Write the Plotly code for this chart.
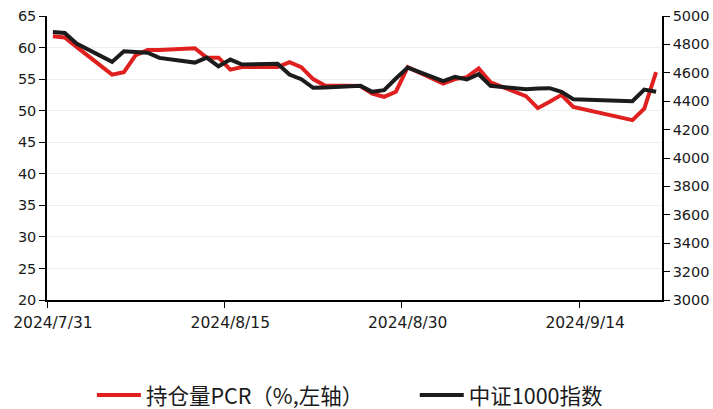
import pandas as pd
import plotly.graph_objects as go

dates = ["2024-07-31", "2024-08-01", "2024-08-02", "2024-08-05", "2024-08-06", "2024-08-07",
         "2024-08-08", "2024-08-09", "2024-08-12", "2024-08-13", "2024-08-14", "2024-08-15",
         "2024-08-16", "2024-08-19", "2024-08-20", "2024-08-21", "2024-08-22", "2024-08-23",
         "2024-08-26", "2024-08-27", "2024-08-28", "2024-08-29", "2024-08-30", "2024-09-02",
         "2024-09-03", "2024-09-04", "2024-09-05", "2024-09-06", "2024-09-09", "2024-09-10",
         "2024-09-11", "2024-09-12", "2024-09-13", "2024-09-18", "2024-09-19", "2024-09-20"]

pcr = [61.8, 61.6, 60.1, 55.7, 56.1, 58.8,
       59.6, 59.6, 59.9, 58.4, 58.4, 56.5,
       56.9, 56.9, 57.7, 56.9, 55.0, 54.0,
       53.9, 52.7, 52.2, 53.0, 56.9, 54.3,
       55.0, 55.3, 56.7, 54.5, 52.3, 50.4,
       51.4, 52.5, 50.6, 48.5, 50.3, 56.1]

csi1000 = [4887, 4880, 4806, 4677, 4752, 4747,
           4742, 4705, 4672, 4707, 4646, 4693,
           4658, 4663, 4588, 4555, 4494, 4497,
           4508, 4466, 4478, 4560, 4637, 4541,
           4571, 4553, 4590, 4508, 4484, 4489,
           4492, 4466, 4414, 4400, 4482, 4466]

tick_dates = ["2024-07-31", "2024-08-15", "2024-08-30", "2024-09-14"]
tick_labels = ["2024/7/31", "2024/8/15", "2024/8/30", "2024/9/14"]

half_day = pd.Timedelta(hours=12)
x = pd.to_datetime(dates) + half_day
tick_pos = pd.to_datetime(tick_dates)

fig = go.Figure()
fig.add_trace(go.Scatter(x=x, y=pcr, name="持仓量PCR（%,左轴）", mode="lines",
                         line=dict(color="#E0201F", width=4), yaxis="y", legend="legend"))
fig.add_trace(go.Scatter(x=x, y=csi1000, name="中证1000指数", mode="lines",
                         line=dict(color="#1C1C1C", width=4), yaxis="y2", legend="legend2"))

legend_font = dict(family="Noto Sans CJK SC", size=21.5, color="#1a1a1a")

fig.update_layout(
    width=713, height=409,
    margin=dict(l=47, r=51, t=16, b=109, autoexpand=False),
    paper_bgcolor="white", plot_bgcolor="white",
    showlegend=True,
    legend=dict(orientation="h", x=0.073, xanchor="left", y=-0.335, yanchor="middle",
                font=legend_font, itemwidth=44, bgcolor="rgba(0,0,0,0)"),
    legend2=dict(orientation="h", x=0.598, xanchor="left", y=-0.335, yanchor="middle",
                 font=legend_font, itemwidth=44, bgcolor="rgba(0,0,0,0)"),
    xaxis=dict(type="date", range=["2024-07-31", "2024-09-21"],
               tickvals=tick_pos + half_day, ticktext=tick_labels, ticks="",
               minor=dict(tickvals=tick_pos, ticks="outside", ticklen=6,
                          tickcolor="black", showgrid=False),
               showgrid=False, showline=True, linecolor="black", linewidth=1.5,
               automargin=False, ticklabelstandoff=8,
               tickfont=dict(family="DejaVu Sans", size=15.5, color="#1a1a1a"),
               zeroline=False),
    yaxis=dict(range=[20, 65], dtick=5, showgrid=True, gridcolor="#EFEFEF", gridwidth=1,
               showline=True, linecolor="black", linewidth=1.5, automargin=False,
               ticks="outside", ticklen=6, tickcolor="black",
               tickfont=dict(family="DejaVu Sans", size=14.5, color="#1a1a1a"),
               zeroline=False),
    yaxis2=dict(range=[3000, 5000], dtick=200, overlaying="y", side="right",
                showgrid=False, showline=True, linecolor="black", linewidth=1.5,
                automargin=False, ticks="outside", ticklen=6, tickcolor="black",
                tickfont=dict(family="DejaVu Sans", size=14.5, color="#1a1a1a"),
                zeroline=False),
)

fig.write_html("out.html", config={"displayModeBar": False},
               post_script="document.body.style.margin='0';"
                           "document.documentElement.style.overflow='hidden';")
